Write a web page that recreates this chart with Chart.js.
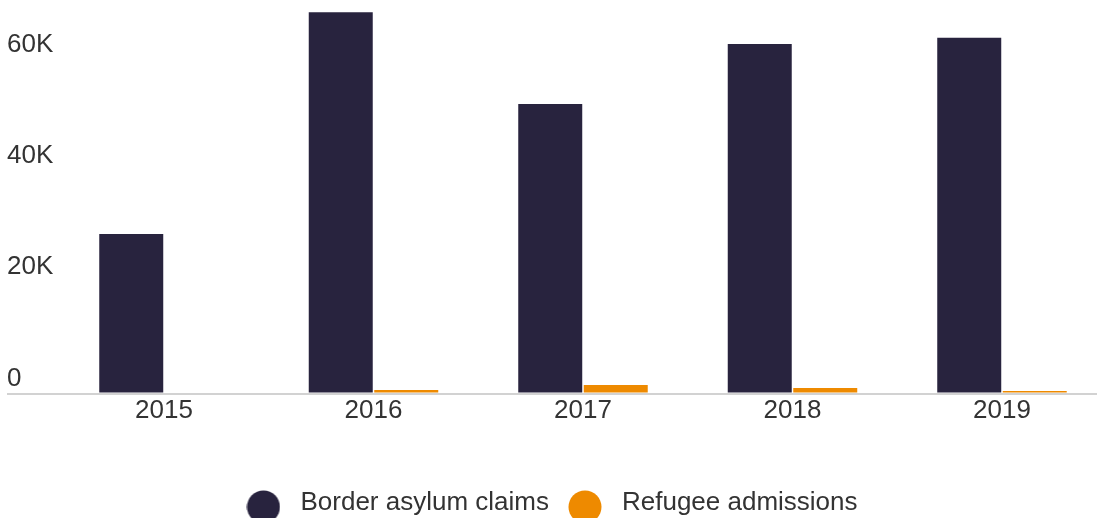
<!DOCTYPE html>
<html>
<head>
<meta charset="utf-8">
<script src="https://cdn.jsdelivr.net/npm/chart.js@4/dist/chart.umd.min.js"></script>
<style>
  html, body { margin: 0; padding: 0; background: #fff; overflow: hidden; }
  canvas { display: block; }
</style>
</head>
<body>
<canvas id="asylumChart" width="1097" height="518"></canvas>
<script>
// data
const years = [2015, 2016, 2017, 2018, 2019];
const borderClaims = [28650, 68500, 52000, 62800, 63900];
const refugeeAdmissions = [0, 630, 1530, 990, 450];
const seriesNames = ['Border asylum claims', 'Refugee admissions'];
const yTicks = [0, 20000, 40000, 60000];

const DARK = '#28233e';
const ORANGE = '#ee8a00';
const TEXT = '#333333';
const FONT = "'Liberation Sans', Arial, sans-serif";

// round legend marker, nudged down a little like the original
function makeDot(color) {
  const cv = document.createElement('canvas');
  cv.width = 34; cv.height = 42;
  const g = cv.getContext('2d');
  g.fillStyle = color;
  g.beginPath();
  g.arc(17, 25, 16.5, 0, Math.PI * 2);
  g.fill();
  return cv;
}
const dots = [makeDot(DARK), makeDot(ORANGE)];

const canvas = document.getElementById('asylumChart');
new Chart(canvas, {
  type: 'bar',
  data: {
    datasets: [
      {
        label: seriesNames[0],
        data: years.map((y, i) => ({ x: y, y: borderClaims[i] })),
        backgroundColor: DARK,
        borderWidth: 0,
        clip: false
      },
      {
        label: seriesNames[1],
        data: years.map((y, i) => ({ x: y, y: refugeeAdmissions[i] })),
        backgroundColor: ORANGE,
        borderWidth: 0,
        clip: false
      }
    ]
  },
  options: {
    responsive: false,
    animation: false,
    categoryPercentage: 0.6253,
    barPercentage: 0.977,
    layout: { padding: { top: 3.8, left: 0, right: 0, bottom: -8 } },
    plugins: {
      tooltip: { enabled: false },
      legend: {
        position: 'bottom',
        labels: {
          usePointStyle: true,
          pointStyleWidth: 48,
          boxHeight: 23,
          padding: 12,
          color: TEXT,
          font: { family: FONT, size: 26 },
          generateLabels: chart =>
            Chart.defaults.plugins.legend.labels.generateLabels(chart)
              .map((l, i) => ({ ...l, pointStyle: dots[i] }))
        }
      }
    },
    scales: {
      x: {
        type: 'linear',
        offset: false,
        bounds: 'data',
        min: 2014.2506,
        max: 2019.4535,
        afterBuildTicks: s => { s.ticks = years.map(v => ({ value: v })); },
        afterFit: s => { s.height = 84.5; },
        grid: { display: false, drawTicks: false, offset: false },
        border: { display: false },
        ticks: {
          padding: 2,
          color: TEXT,
          font: { family: FONT, size: 26 },
          callback: v => String(v)
        }
      },
      y: {
        bounds: 'data',
        min: 0,
        max: 70000,
        afterBuildTicks: s => { s.ticks = yTicks.map(v => ({ value: v })); },
        afterFit: s => { s.width = 7; },
        border: { display: false },
        grid: {
          drawTicks: false,
          lineWidth: 2,
          color: ctx => ctx.tick && ctx.tick.value === 0 ? '#d2d2d2' : 'rgba(0,0,0,0)'
        },
        ticks: {
          mirror: true,
          padding: 0,
          labelOffset: -15,
          color: TEXT,
          font: { family: FONT, size: 26, lineHeight: 0.2 },
          callback: v => v === 0 ? '0' : (v / 1000) + 'K'
        }
      }
    }
  }
});
</script>
</body>
</html>
